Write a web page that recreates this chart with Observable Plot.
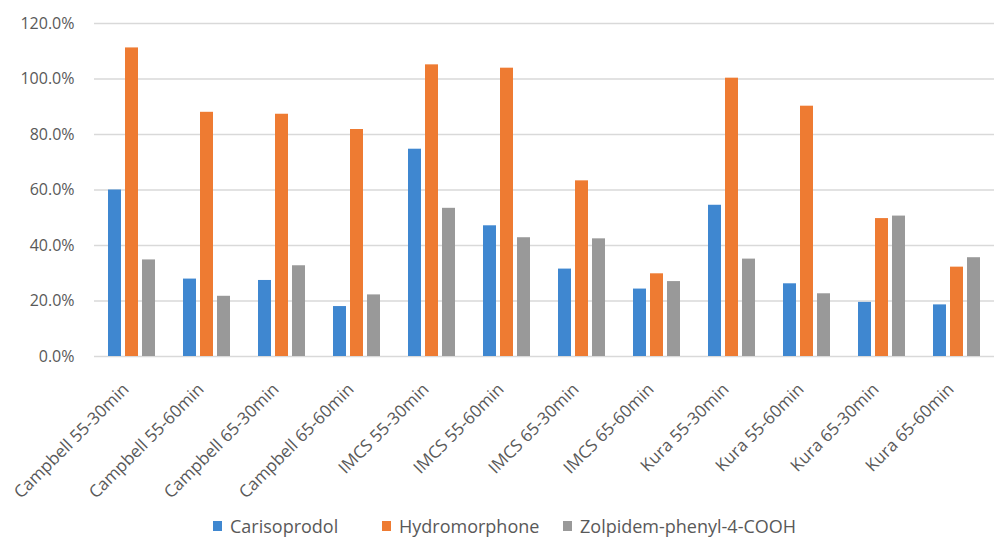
<!DOCTYPE html>
<html>
<head>
<meta charset="utf-8">
<script src="https://cdn.jsdelivr.net/npm/d3@7"></script>
<script src="https://cdn.jsdelivr.net/npm/@observablehq/plot@0.6"></script>
<style>
  html, body { margin: 0; padding: 0; background: #fff; }
  #chart { width: 995px; }
  .legend { position: relative; height: 33px; font-family: "Open Sans", sans-serif; font-size: 18px; line-height: 24px; color: #595959; }
  .legend span.item { position: absolute; top: 9px; display: flex; align-items: center; white-space: nowrap; }
  .legend span.sw { display: inline-block; width: 9px; height: 10px; margin-right: 8px; }
</style>
</head>
<body>
<div id="chart"></div>
<script>
const categories = [
  "Campbell 55-30min", "Campbell 55-60min", "Campbell 65-30min", "Campbell 65-60min",
  "IMCS 55-30min", "IMCS 55-60min", "IMCS 65-30min", "IMCS 65-60min",
  "Kura 55-30min", "Kura 55-60min", "Kura 65-30min", "Kura 65-60min"
];
const seriesNames = ["Carisoprodol", "Hydromorphone", "Zolpidem-phenyl-4-COOH"];
const carisoprodol = [60.0, 27.9, 27.4, 18.0, 74.7, 47.1, 31.5, 24.3, 54.5, 26.2, 19.5, 18.6];
const hydromorphone = [111.2, 88.0, 87.3, 81.8, 105.1, 103.9, 63.3, 29.8, 100.3, 90.2, 49.7, 32.2];
const zolpidem = [34.8, 21.7, 32.7, 22.2, 53.4, 42.8, 42.4, 27.0, 35.1, 22.6, 50.6, 35.6];
const yTicks = [0, 20, 40, 60, 80, 100, 120];
const colors = ["#3f87d0", "#ee7b32", "#999999"];

const seriesValues = [carisoprodol, hydromorphone, zolpidem];
const data = [];
categories.forEach((c, i) => {
  seriesNames.forEach((s, j) => data.push({category: c, series: s, value: seriesValues[j][i]}));
});

const chart = Plot.plot({
  width: 995,
  height: 505,
  marginTop: 23,
  marginBottom: 149,
  marginLeft: 93,
  marginRight: 0,
  style: {fontFamily: "Open Sans, sans-serif", fontSize: "16px", color: "#595959", background: "#fff"},
  fx: {domain: categories, padding: 0, label: null},
  x: {domain: seriesNames, axis: null, paddingInner: 0.24, paddingOuter: 0.825},
  y: {domain: [0, 120], ticks: yTicks, tickFormat: d => d.toFixed(1) + "%", label: null, tickSize: 0, tickPadding: 20},
  color: {domain: seriesNames, range: colors},
  marks: [
    Plot.ruleY(yTicks, {stroke: "#d9d9d9", strokeWidth: 1.5}),
    Plot.barY(data, {fx: "category", x: "series", y: "value", fill: "series"}),
    Plot.axisFx({anchor: "bottom", tickRotate: -45, tickSize: 0, tickPadding: 30, fontSize: 17, label: null, dx: -6})
  ]
});
document.getElementById("chart").appendChild(chart);

const legend = document.createElement("div");
legend.className = "legend";
const lefts = [213, 382, 563];
seriesNames.forEach((s, j) => {
  const item = document.createElement("span");
  item.className = "item";
  item.style.left = lefts[j] + "px";
  const sw = document.createElement("span");
  sw.className = "sw";
  sw.style.background = colors[j];
  item.appendChild(sw);
  item.appendChild(document.createTextNode(s));
  legend.appendChild(item);
});
document.getElementById("chart").appendChild(legend);
</script>
</body>
</html>
